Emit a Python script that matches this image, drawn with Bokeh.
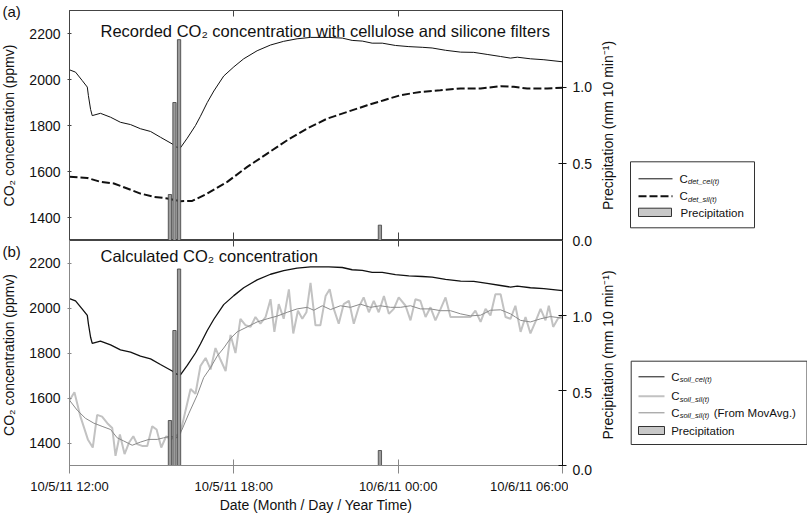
import math
from bokeh.plotting import figure
from bokeh.models import Range1d, LinearAxis, FixedTicker, Label
from bokeh.layouts import column, row
from bokeh.embed import file_html
from bokeh.resources import INLINE
from bokeh.core.properties import value

FONT = "Liberation Sans"

# time axis: hours after 10/5/11 12:00
x_ticks = [0, 6, 12, 18]
x_tick_labels = ["10/5/11 12:00", "10/5/11 18:00", "10/6/11 00:00", "10/6/11 06:00"]
y_ticks = [1400, 1600, 1800, 2000, 2200]
p_ticks = [0.0, 0.5, 1.0]
p_tick_labels = ["0.0", "0.5", "1.0"]

# C_det_cel(t) == C_soil_cel(t)
cel_t = [0.00, 0.22, 0.46, 0.65, 0.69, 0.77, 0.83, 1.13, 1.50, 1.86, 2.23, 2.59, 2.96, 3.32, 3.75,
         3.91, 4.05, 4.30, 4.60, 4.78, 5.03, 5.27, 5.63, 6.00, 6.36, 6.85, 7.34, 7.82, 8.31, 8.80,
         9.47, 9.96, 10.32, 10.69, 11.05, 11.42, 11.90, 12.39, 12.88, 13.24, 13.73, 14.28, 14.76,
         15.25, 15.74, 16.10, 16.35, 16.83, 17.32, 18.00]
cel_v = [2042, 2032, 1996, 1967, 1930, 1870, 1843, 1853, 1836, 1814, 1804, 1786, 1774, 1749, 1720,
         1706, 1703, 1745, 1800, 1840, 1900, 1950, 2015, 2055, 2090, 2125, 2150, 2166, 2177, 2183,
         2183, 2180, 2170, 2167, 2158, 2158, 2148, 2143, 2140, 2137, 2127, 2119, 2118,
         2109, 2100, 2093, 2097, 2090, 2086, 2077]

# C_det_sil(t)
dsil_t = [0.00, 0.65, 1.13, 1.62, 2.11, 2.59, 3.08, 3.57, 4.05, 4.48, 5.03, 5.76, 6.49, 7.22, 7.95,
          8.68, 9.41, 10.14, 10.87, 11.48, 12.09, 12.81, 13.54, 14.28, 15.01, 15.74, 16.22, 16.71,
          17.44, 18.00]
dsil_v = [1577, 1572, 1555, 1548, 1526, 1504, 1490, 1483, 1471, 1472, 1504, 1555, 1620, 1678, 1736,
          1787, 1830, 1859, 1888, 1910, 1932, 1946, 1953, 1961, 1961, 1971, 1968, 1961,
          1961, 1964]

# C_soil_sil(t)
ssil_t = [0.00, 0.18, 0.40, 0.67, 0.85, 1.01, 1.19, 1.38, 1.56, 1.68,
          1.84, 2.01, 2.17, 2.33, 2.47, 2.65, 2.84, 3.02, 3.18, 3.35,
          3.53, 3.69, 3.87, 4.05, 4.24, 4.42, 4.60, 4.78, 4.97, 5.15,
          5.33, 5.51, 5.70, 5.88, 6.06, 6.24, 6.43, 6.61, 6.79, 6.97,
          7.16, 7.34, 7.48, 7.64, 7.82, 8.01, 8.17, 8.34, 8.50, 8.65,
          8.80, 8.98, 9.16, 9.35, 9.50, 9.65, 9.83, 10.01, 10.20, 10.38,
          10.56, 10.74, 10.93, 11.11, 11.29, 11.48, 11.66, 11.84, 12.02, 12.27,
          12.45, 12.63, 12.81, 13.00, 13.18, 13.36, 13.55, 13.73, 13.91, 14.64,
          14.82, 15.01, 15.19, 15.37, 15.55, 15.74, 15.92, 16.10, 16.28, 16.47,
          16.65, 16.83, 17.01, 17.20, 17.38, 17.50, 17.66, 17.83, 18.00]
ssil_v = [1590, 1626, 1517, 1416, 1380, 1525, 1517, 1488, 1467, 1343,
          1438, 1351, 1401, 1430, 1395, 1387, 1387, 1474, 1460, 1380,
          1430, 1416, 1430, 1445, 1546, 1640, 1619, 1742, 1778, 1727,
          1822, 1771, 1720, 1880, 1800, 1952, 1923, 1916, 1960, 1930,
          1960, 2039, 1894, 2017, 1952, 2083, 1887, 1988, 1952, 1981,
          2112, 1923, 1923, 2053, 2083, 1996, 1930, 2017, 2032, 1930,
          2003, 2047, 1981, 2032, 1981, 2053, 1974, 1996, 2047, 2010,
          1945, 2039, 2032, 1960, 2003, 1945, 1996, 2047, 1960, 1960,
          1988, 1938, 1996, 1967, 2061, 2061, 1960, 1952, 2010, 1894,
          1960, 1887, 1938, 1996, 1945, 2010, 1916, 1952, 1967]

# C_soil_sil(t) (From MovAvg.)
mavg_t = [0.00, 0.28, 0.58, 0.89, 1.19, 1.50, 1.74, 1.98, 2.29, 2.59,
          2.90, 3.20, 3.44, 3.69, 3.93, 4.11, 4.36, 4.66, 4.90, 5.15,
          5.39, 5.63, 5.88, 6.12, 6.49, 6.85, 7.22, 7.58, 7.95, 8.31,
          8.68, 8.92, 9.23, 9.53, 9.89, 10.26, 10.62, 10.99, 11.35, 11.72,
          12.09, 12.45, 12.81, 13.18, 13.55, 13.91, 14.28, 14.64, 15.01, 15.37,
          15.74, 16.10, 16.28, 16.47, 16.83, 17.20, 17.56, 18.00]
mavg_v = [1590, 1546, 1510, 1488, 1474, 1460, 1423, 1409, 1390, 1404,
          1416, 1416, 1423, 1430, 1423, 1460, 1532, 1612, 1691, 1735,
          1786, 1822, 1865, 1894, 1916, 1938, 1952, 1964, 1981, 1996,
          2003, 1990, 2010, 1993, 2010, 2003, 2017, 2003, 2010, 2003,
          2003, 2010, 1996, 1996, 1988, 1988, 1974, 1965, 1968, 1990,
          1992, 1974, 1960, 1945, 1938, 1952, 1962, 1955]

# precipitation (mm / 10 min)
prec_t = [3.667, 3.833, 4.000, 11.333]
prec_v = [0.30, 0.90, 1.31, 0.10]
BAR_W = 0.12
P_MAX = 1.5

BAR_FILL = "#9c9c9c"
BAR_LINE = "#3c3c3c"
SIL_GREY = "#c2c2c2"
AVG_GREY = "#8a8a8a"
Y_LABEL = "CO\u2082 concentration (ppmv)"
P_LABEL = "Precipitation (mm 10 min\u207b\u00b9)"

# page layout (px)
TOTAL_H = 515
TOP_F = (10, 240)     # frame of panel (a): top, bottom
BOT_F = (240, 469)    # frame of panel (b)


def hide_labels(ax):
    ax.major_label_text_font_size = "0px"
    ax.major_label_text_color = None
    ax.major_label_standoff = 0


def make_panel(height, top_border, bottom_border, frame_col, show_xlabels):
    p = figure(width=546, height=height, x_range=Range1d(0, 18), y_range=Range1d(1300, 2300),
               output_backend="svg", toolbar_location=None,
               x_axis_location=None, y_axis_location=None,
               min_border_left=47, min_border_right=6,
               min_border_top=top_border, min_border_bottom=bottom_border)
    p.extra_y_ranges = {"prec": Range1d(0, P_MAX)}
    p.grid.visible = False
    p.outline_line_color = frame_col
    p.background_fill_color = "white"
    p.border_fill_color = "white"

    ly = LinearAxis(ticker=FixedTicker(ticks=y_ticks))
    ly.axis_line_color = frame_col
    ly.major_tick_line_color = frame_col
    ly.major_tick_in = 2
    ly.major_tick_out = 2
    ly.minor_tick_line_color = None
    ly.major_label_standoff = 7
    ly.major_label_text_font = FONT
    ly.major_label_text_font_size = "14px"
    ly.major_label_text_color = "#111"
    p.add_layout(ly, "left")

    ry = LinearAxis(y_range_name="prec", ticker=FixedTicker(ticks=p_ticks))
    ry.axis_line_color = "#111"
    ry.major_tick_line_color = "#111"
    ry.major_tick_in = 4
    ry.major_tick_out = 4
    ry.minor_tick_line_color = None
    hide_labels(ry)
    p.add_layout(ry, "right")

    ta = LinearAxis(ticker=FixedTicker(ticks=[6, 12]))
    ta.axis_line_color = "#444"
    ta.major_tick_line_color = "#444"
    ta.major_tick_in = 6
    ta.major_tick_out = 0
    ta.minor_tick_line_color = None
    hide_labels(ta)
    p.add_layout(ta, "above")

    ba = LinearAxis(ticker=FixedTicker(ticks=x_ticks))
    ba.axis_line_color = frame_col
    ba.major_tick_line_color = frame_col
    ba.minor_tick_line_color = None
    if show_xlabels:
        ba.major_tick_in = 6
        ba.major_tick_out = 8
        ba.major_label_overrides = {t: s for t, s in zip(x_ticks, x_tick_labels)}
        ba.major_label_standoff = 5
        ba.major_label_text_font = FONT
        ba.major_label_text_font_size = "13px"
        ba.major_label_text_color = "#111"
        ba.axis_label = "Date (Month / Day / Year Time)"
        ba.axis_label_text_font = FONT
        ba.axis_label_text_font_size = "14px"
        ba.axis_label_text_font_style = "normal"
        ba.axis_label_text_color = "#111"
        ba.axis_label_standoff = 0
    else:
        ba.major_tick_in = 8
        ba.major_tick_out = 0
        hide_labels(ba)
    p.add_layout(ba, "below")
    return p


def lab(p, x, y, text, size):
    p.add_layout(Label(x=x, y=y, x_units="screen", y_units="screen", text=text,
                       text_font=FONT, text_font_size=size, text_color="#111",
                       text_align="left", text_baseline="alphabetic"))


def blank_fig(width, height):
    f = figure(width=width, height=height, x_range=Range1d(0, width), y_range=Range1d(0, height),
               output_backend="svg", toolbar_location=None,
               x_axis_location=None, y_axis_location=None, min_border=0)
    f.grid.visible = False
    f.outline_line_color = None
    f.background_fill_color = "white"
    f.border_fill_color = "white"
    return f


def ftext(f, x, y, t, size="11.5px", style="normal", angle=0.0, align="left",
          baseline="middle", y_range_name="default"):
    f.text(x=x if isinstance(x, list) else [x], y=y if isinstance(y, list) else [y],
           text=t if isinstance(t, list) else [t],
           text_font=value(FONT), text_font_size=value(size),
           text_font_style=style, text_baseline=baseline, text_align=align,
           text_color="#111", angle=angle, y_range_name=y_range_name)


def entry_c(f, x, y, sub, extra=None, sub_w=30):
    ftext(f, x, y, "C")
    ftext(f, x + 8.5, y - 3, sub, size="7.5px", style="italic")
    if extra:
        ftext(f, x + 8.5 + sub_w + 3, y, extra)


# ---------- panel (a)
p1 = make_panel(TOP_F[1], TOP_F[0], 0, "#444", False)
p1.line(cel_t, cel_v, line_color="#111", line_width=1)
p1.line(dsil_t, dsil_v, line_color="#111", line_width=2, line_dash="8 3")
p1.vbar(x=prec_t, top=prec_v, bottom=0, width=BAR_W, y_range_name="prec",
        fill_color=BAR_FILL, line_color=BAR_LINE, line_width=0.8)
lab(p1, 31, 210, "Recorded CO\u2082 concentration with cellulose and silicone filters", "16.5px")

# ---------- panel (b)
p2 = make_panel(TOTAL_H - BOT_F[0], 0, TOTAL_H - BOT_F[1], "#888", True)
p2.line(ssil_t, ssil_v, line_color=SIL_GREY, line_width=2)
p2.line(mavg_t, mavg_v, line_color=AVG_GREY, line_width=1)
p2.line(cel_t, cel_v, line_color="#111", line_width=1.3)
p2.vbar(x=prec_t, top=prec_v, bottom=0, width=BAR_W, y_range_name="prec",
        fill_color=BAR_FILL, line_color=BAR_LINE, line_width=0.8)
lab(p2, 31, 210, "Calculated CO\u2082 concentration", "16.5px")

# ---------- left strip: panel letters and y-axis titles
strip = blank_fig(22, TOTAL_H)
ftext(strip, 2, 513, "(a)", size="15px", baseline="top")
ftext(strip, 2, 273, "(b)", size="15px", baseline="top")
ftext(strip, 8, TOTAL_H - 125, Y_LABEL, size="14px", angle=math.pi / 2, align="center")
ftext(strip, 8, TOTAL_H - 354.5, Y_LABEL, size="14px", angle=math.pi / 2, align="center")


# ---------- right column: precipitation tick labels, axis titles, legends
def prec_range(f_top, f_bot):
    per_px = P_MAX / (f_bot - f_top)
    return Range1d(-(TOTAL_H - f_bot) * per_px, P_MAX + f_top * per_px)


rc = blank_fig(239, TOTAL_H)
rc.extra_y_ranges = {"ptop": prec_range(*TOP_F), "pbot": prec_range(*BOT_F)}
ftext(rc, [4] * len(p_ticks), p_ticks, p_tick_labels, size="14px", y_range_name="ptop")
ftext(rc, [4] * len(p_ticks), p_ticks, p_tick_labels, size="14px", y_range_name="pbot")
ftext(rc, 39, TOTAL_H - 125, P_LABEL, size="14px", angle=math.pi / 2, align="center")
ftext(rc, 39, TOTAL_H - 354.5, P_LABEL, size="14px", angle=math.pi / 2, align="center")

# legend (a)
rc.quad(left=62, right=186, bottom=287.7, top=353.7, fill_color="white", line_color="#333", line_width=1)
rc.line([70, 104], [336.7, 336.7], line_color="#111", line_width=1)
rc.line([70, 104], [319.3, 319.3], line_color="#111", line_width=2, line_dash="8 3")
rc.quad(left=70, right=103, bottom=299, top=307.3, fill_color="#c8c8c8", line_color="#333", line_width=1)
entry_c(rc, 111, 336.7, "det_cel(t)")
entry_c(rc, 111, 319.3, "det_sil(t)")
ftext(rc, 112, 303, "Precipitation")

# legend (b)
rc.quad(left=62.7, right=238.5, bottom=71, top=154.3, fill_color="white", line_color="#333", line_width=1)
rc.line([70, 96], [138.7, 138.7], line_color="#111", line_width=1)
rc.line([70, 96], [119.3, 119.3], line_color=SIL_GREY, line_width=2)
rc.line([70, 96], [102.7, 102.7], line_color=AVG_GREY, line_width=1)
rc.quad(left=70, right=96, bottom=81, top=89, fill_color="#c8c8c8", line_color="#333", line_width=1)
entry_c(rc, 102.7, 138.7, "soil_cel(t)")
entry_c(rc, 102.7, 119.3, "soil_sil(t)")
entry_c(rc, 102.7, 102.7, "soil_sil(t)", extra="(From MovAvg.)", sub_w=31)
ftext(rc, 102.7, 85, "Precipitation")

layout = row(strip, column(p1, p2), rc)
open("out.html", "w").write(file_html(layout, INLINE))
